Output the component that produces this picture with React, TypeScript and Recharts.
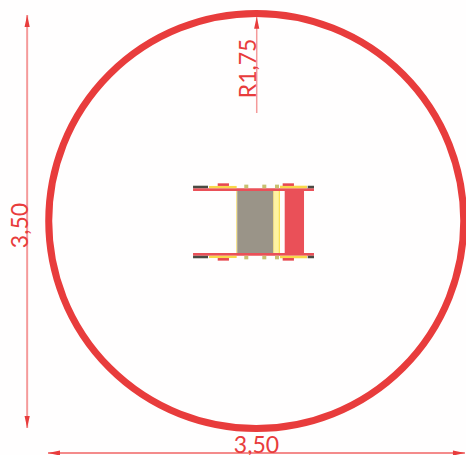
import React from "react";
import { ScatterChart, Scatter, XAxis, YAxis, ReferenceArea, ReferenceLine, ReferenceDot } from "recharts";

const WIDTH = 466;
const HEIGHT = 455;
const X_DOMAIN = [-2.159, 1.771];
const Y_DOMAIN = [-1.965, 1.872];
const PX_PER_M = WIDTH / (X_DOMAIN[1] - X_DOMAIN[0]);
const RED = "#e83c3c";

const footprintRadius = 1.75;
const footprintCentre = { x: 0.002, y: 0.008 };

// [x1, x2, y1, y2, colour] in metres from the centre of the footprint
const barParts = [
  [-0.531, 0.489, 0.261, 0.285, "#ea5058"],
  [-0.531, 0.489, -0.285, -0.261, "#ea5058"],
];
const darkEnds = [
  [-0.531, -0.405, 0.285, 0.306, "#4a4a42"],
  [0.436, 0.489, 0.285, 0.306, "#4a4a42"],
  [-0.531, -0.405, -0.306, -0.285, "#4a4a42"],
  [0.436, 0.489, -0.306, -0.285, "#4a4a42"],
];
const yellowStrips = [
  [-0.396, -0.163, 0.285, 0.304, "#f8d84a"],
  [0.202, 0.43, 0.285, 0.306, "#f8d84a"],
  [-0.396, -0.163, -0.304, -0.285, "#f8d84a"],
  [0.202, 0.43, -0.306, -0.285, "#f8d84a"],
];
const smallRed = [
  [-0.323, -0.228, 0.304, 0.326, "#e8484e"],
  [0.225, 0.32, 0.304, 0.326, "#e8484e"],
  [-0.323, -0.228, -0.326, -0.304, "#e8484e"],
  [0.225, 0.32, -0.326, -0.304, "#e8484e"],
];
const bolts = [
  [-0.099, -0.065, 0.285, 0.315, "#c8c070"],
  [0.053, 0.087, 0.285, 0.315, "#c8c070"],
  [0.16, 0.194, 0.285, 0.315, "#c8c070"],
  [-0.099, -0.065, -0.315, -0.285, "#c8c070"],
  [0.053, 0.087, -0.315, -0.285, "#c8c070"],
  [0.16, 0.194, -0.315, -0.285, "#c8c070"],
];
const panels = [
  [-0.166, -0.158, -0.261, 0.261, "#f2d860"],
  [-0.158, 0.146, -0.261, 0.261, "#9a9488"],
  [0.146, 0.156, -0.261, 0.261, "#f2d860"],
  [0.156, 0.19, -0.261, 0.261, "#fff3a0"],
  [0.19, 0.202, -0.261, 0.261, "#fbe04c"],
  [0.242, 0.405, -0.261, 0.261, "#ea5058"],
];
const rects = [...panels, ...barParts, ...darkEnds, ...yellowStrips, ...smallRed, ...bolts];

const dimensionLines = [
  { from: [-1.93, 1.746], to: [-1.93, -1.737], stroke: "#f59a9a", width: 2 },
  { from: [-1.754, -1.948], to: [1.762, -1.948], stroke: "#f06464", width: 1.5 },
  { from: [0.006, 1.73], to: [0.006, 0.919], stroke: "#f49a9a", width: 1.5 },
];
const arrowTips = [
  { x: -1.93, y: 1.746, dir: "up" },
  { x: -1.93, y: -1.737, dir: "down" },
  { x: -1.754, y: -1.948, dir: "left" },
  { x: 1.762, y: -1.948, dir: "right" },
  { x: 0.006, y: 1.73, dir: "up" },
];
const dimensionLabels = [
  { x: -1.999, y: -0.03, text: "3,50", angle: -90 },
  { x: 0.004, y: -1.872, text: "3,50", angle: 0 },
  { x: -0.076, y: 1.295, text: "R1,75", angle: -90 },
];

const Arrow = (props: any) => {
  const { cx, cy, payload } = props;
  const rot = { up: 0, right: 90, down: 180, left: 270 }[payload.dir as string];
  return <path d="M0 0 L2.6 12 L-2.6 12 Z" fill={RED} transform={`translate(${cx} ${cy}) rotate(${rot})`} />;
};

const Label = (props: any) => {
  const { cx, cy, payload } = props;
  return (
    <text
      x={cx}
      y={cy}
      fill={RED}
      fontFamily="Lato"
      fontSize={23}
      textAnchor="middle"
      dominantBaseline="central"
      transform={`rotate(${payload.angle} ${cx} ${cy})`}
    >
      {payload.text}
    </text>
  );
};

export default function App() {
  return (
    <div style={{ position: "absolute", left: 0, top: 0, width: WIDTH, height: HEIGHT, background: "#fffefe", overflow: "hidden" }}>
      <ScatterChart width={WIDTH} height={HEIGHT} margin={{ top: 0, right: 0, bottom: 0, left: 0 }}>
        <XAxis type="number" dataKey="x" domain={X_DOMAIN} hide allowDataOverflow />
        <YAxis type="number" dataKey="y" domain={Y_DOMAIN} hide allowDataOverflow />
        {rects.map((r, i) => (
          <ReferenceArea key={i} x1={r[0]} x2={r[1]} y1={r[2]} y2={r[3]} fill={r[4] as string} fillOpacity={1} stroke="none" />
        ))}
        {dimensionLines.map((l, i) => (
          <ReferenceLine
            key={i}
            segment={[{ x: l.from[0], y: l.from[1] }, { x: l.to[0], y: l.to[1] }]}
            stroke={l.stroke}
            strokeWidth={l.width}
          />
        ))}
        <ReferenceDot x={footprintCentre.x} y={footprintCentre.y} r={footprintRadius * PX_PER_M} fill="none" stroke={RED} strokeWidth={7} />
        <Scatter data={arrowTips} shape={<Arrow />} isAnimationActive={false} />
        <Scatter data={dimensionLabels} shape={<Label />} isAnimationActive={false} />
      </ScatterChart>
    </div>
  );
}
